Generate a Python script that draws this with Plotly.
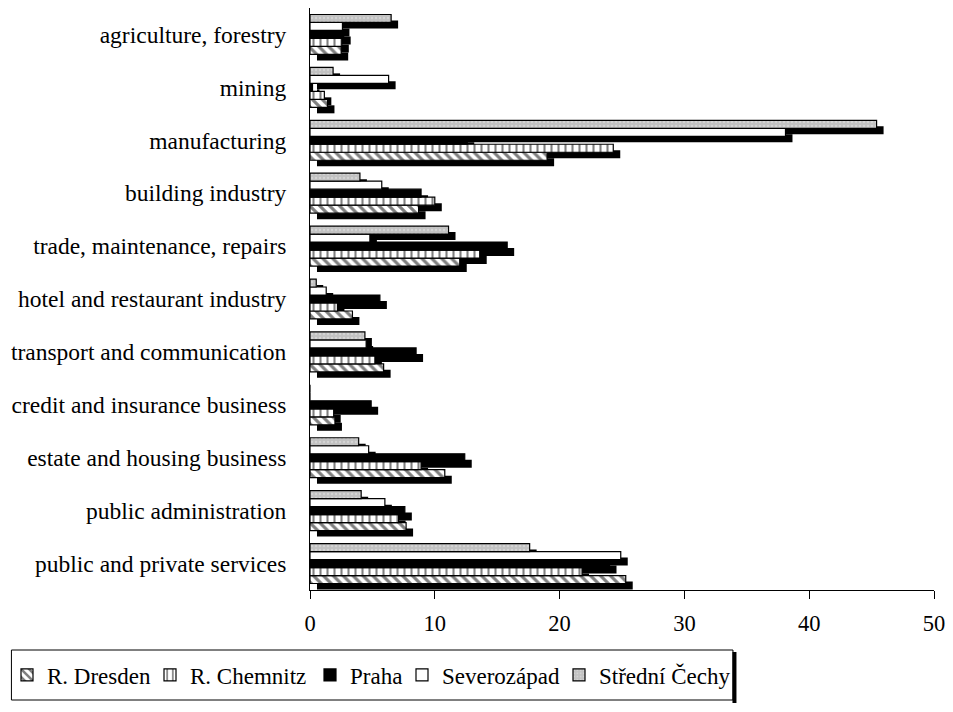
import plotly.graph_objects as go

categories = ["agriculture, forestry", "mining", "manufacturing", "building industry",
              "trade, maintenance, repairs", "hotel and restaurant industry",
              "transport and communication", "credit and insurance business",
              "estate and housing business", "public administration",
              "public and private services"]

r_dresden = [2.5, 1.4, 19.0, 8.7, 12.0, 3.4, 5.9, 2.0, 10.8, 7.7, 25.3]
r_chemnitz = [2.55, 1.15, 24.3, 10.0, 13.6, 2.2, 5.2, 1.9, 8.9, 7.1, 21.8]
praha = [2.7, 0.2, 12.6, 8.9, 15.8, 5.6, 8.5, 4.9, 12.4, 7.6, 24.0]
severozapad = [2.6, 6.3, 38.1, 5.75, 4.8, 1.3, 4.5, 0.0, 4.7, 6.0, 24.9]
stredni_cechy = [6.5, 1.85, 45.4, 4.0, 11.1, 0.5, 4.4, 0.0, 3.9, 4.1, 17.6]

x_ticks = [0, 10, 20, 30, 40, 50]

FONT = "Liberation Serif"

# series in legend order (first series is the bottom bar of each group)
series = [
    ("R. Dresden", r_dresden, dict(color="white", pattern=dict(shape="\\", fgcolor="black", bgcolor="white", size=7, solidity=0.45))),
    ("R. Chemnitz", r_chemnitz, dict(color="white", pattern=dict(shape="|", fgcolor="black", bgcolor="white", size=7, solidity=0.3))),
    ("Praha", praha, dict(color="black")),
    ("Severozápad", severozapad, dict(color="white")),
    ("Střední Čechy", stredni_cechy, dict(color="#c8c8c8", pattern=dict(shape=".", fgcolor="#e8e8e8", bgcolor="#c2c2c2", size=4, solidity=0.25))),
]
# left edge of each legend text (pixels)
legend_text_x = [47, 190, 350, 442, 599]

n = len(series)
w = 0.151          # bar thickness (category units)
dy = 0.113         # shadow vertical shift
dx = 0.56          # shadow horizontal shift (data units)

fig = go.Figure()

def pos_offset(i):
    k = n - 1 - i
    return -2.5 * w + k * w

for i, (name, vals, mk) in enumerate(series):
    fig.add_trace(go.Bar(
        y=categories, x=vals, base=dx, orientation="h",
        offset=pos_offset(i) + dy, width=w,
        marker=dict(color="black", line=dict(width=0)),
        showlegend=False, hoverinfo="skip",
    ))

legend_ids = ["legend"] + [f"legend{j + 1}" for j in range(1, n)]
for i, (name, vals, mk) in enumerate(series):
    fig.add_trace(go.Bar(
        y=categories, x=vals, orientation="h", name=name,
        offset=pos_offset(i), width=w, legend=legend_ids[i],
        marker=dict(**mk, line=dict(color="black", width=1.2)),
    ))

L, R, T, B = 310, 16, 8, 122
W, H = 953, 712
pw = W - L - R
ph = H - T - B

def px_x(p):
    return (p - L) / pw

def px_y(p):
    return (H - B - p) / ph

layout_legends = {}
for i, lid in enumerate(legend_ids):
    layout_legends[lid] = dict(
        orientation="h", xref="container", yref="container",
        x=(legend_text_x[i] - 40) / W, y=1 - 675 / H, xanchor="left", yanchor="middle",
        font=dict(size=23, family=FONT, color="black"), bgcolor="rgba(0,0,0,0)",
        borderwidth=0, itemwidth=30)

fig.update_layout(
    width=W, height=H,
    margin=dict(l=L, r=R, t=T, b=B, pad=0),
    barmode="overlay",
    paper_bgcolor="white", plot_bgcolor="white",
    font=dict(family=FONT, size=23.5, color="black"),
    xaxis=dict(range=[0, 50], tickvals=x_ticks, showgrid=False, zeroline=False,
               showline=True, linecolor="black", linewidth=1,
               ticks="outside", ticklen=8, tickcolor="black", tickwidth=1,
               tickfont=dict(size=22.5, family=FONT), ticklabelstandoff=5),
    yaxis=dict(categoryorder="array", categoryarray=categories, autorange="reversed",
               showgrid=False, zeroline=False, showline=True, linecolor="black",
               linewidth=1, ticks="", tickfont=dict(size=23.5, family=FONT),
               ticklabelstandoff=18),
    shapes=[
        dict(type="rect", xref="paper", yref="paper",
             x0=px_x(10), x1=px_x(735), y0=px_y(700), y1=px_y(650),
             line=dict(color="black", width=1), fillcolor="white", layer="below"),
        dict(type="line", xref="paper", yref="paper",
             x0=px_x(736.5), x1=px_x(736.5), y0=px_y(703), y1=px_y(652),
             line=dict(color="black", width=4)),
    ],
    **layout_legends,
)

fig.write_html("out.html")
